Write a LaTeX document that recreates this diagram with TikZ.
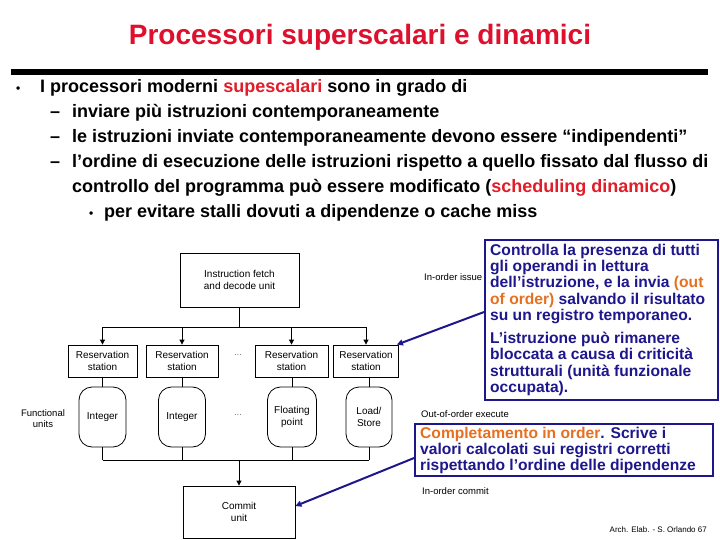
\documentclass[tikz,border=0pt]{standalone}
\usepackage{fontspec}
\setmainfont{Liberation Sans}
\usetikzlibrary{arrows.meta}
\definecolor{titlered}{RGB}{222,16,46}
\definecolor{bulred}{RGB}{226,28,40}
\definecolor{calblue}{RGB}{30,22,140}
\definecolor{calorange}{RGB}{230,112,32}
\definecolor{dotgray}{RGB}{120,120,120}
\begin{document}
\begin{tikzpicture}[x=1pt,y=-1pt,
  blk/.style={draw, line width=0.8pt, align=center, inner sep=0pt, font=\fontsize{10}{11.5}\selectfont},
  fubox/.style={blk, rounded corners=13pt, minimum height=60pt},
  lbl/.style={inner sep=0pt, font=\fontsize{9.5}{11}\selectfont, align=center},
  bul/.style={inner sep=0pt, anchor=base west, font=\fontsize{18}{20}\selectfont\bfseries},
  callbox/.style={draw=calblue, line width=1.8pt, fill=white, inner sep=0pt},
  calltext/.style={inner sep=0pt, anchor=north west, align=left, text=calblue, font=\fontsize{15.6}{16.2}\selectfont\bfseries},
  conn/.style={line width=0.8pt},
  arr/.style={conn, -{Triangle[length=5pt,width=5pt]}},
  bluearr/.style={draw=calblue, line width=2pt, -{Triangle[length=6pt,width=6pt]}}
]
\useasboundingbox (0,0) rectangle (720,540);
\fill[white] (0,0) rectangle (720,540);

% title
\node[inner sep=0pt, text=titlered, font=\fontsize{28}{30}\selectfont\bfseries] (title) at (360,37) {Processori superscalari e dinamici};
\fill (11,69) rectangle (708,75);

% bullets
\node[bul, font=\fontsize{12}{14}\selectfont\bfseries] (b0) at (16,93) {•};
\node[bul] (l1) at (40,93) {I processori moderni \textcolor{bulred}{supescalari} sono in grado di};
\node[bul] (d2) at (50,118) {–};
\node[bul] (l2) at (72,118) {inviare più istruzioni contemporaneamente};
\node[bul] (d3) at (50,143) {–};
\node[bul] (l3) at (72,143) {le istruzioni inviate contemporaneamente devono essere “indipendenti”};
\node[bul] (d4) at (50,168) {–};
\node[bul] (l4) at (72,168) {l’ordine di esecuzione delle istruzioni rispetto a quello fissato dal flusso di};
\node[bul] (l5) at (72,193) {controllo del programma può essere modificato (\textcolor{bulred}{scheduling dinamico})};
\node[bul, font=\fontsize{12}{14}\selectfont\bfseries] (b6) at (89,218) {•};
\node[bul] (l6) at (104,218) {per evitare stalli dovuti a dipendenze o cache miss};

% diagram
\node[blk, minimum width=119pt, minimum height=54pt] (fetch) at (239.5,280) {Instruction fetch\\and decode unit};
\node[blk, minimum width=69pt, minimum height=32pt] (rs1) at (102.5,361) {Reservation\\station};
\node[blk, minimum width=72pt, minimum height=32pt] (rs2) at (182,361) {Reservation\\station};
\node[blk, minimum width=73pt, minimum height=32pt] (rs3) at (291.5,361) {Reservation\\station};
\node[blk, minimum width=65pt, minimum height=32pt] (rs4) at (366,361) {Reservation\\station};
\node[fubox, minimum width=47pt] (fu1) at (102.5,417) {Integer};
\node[fubox, minimum width=47pt] (fu2) at (182,417) {Integer};
\node[fubox, minimum width=49pt] (fu3) at (292,417) {Floating\\point};
\node[fubox, minimum width=46pt] (fu4) at (369,417) {Load/\\Store};
\node[blk, minimum width=112pt, minimum height=52pt] (commit) at (239,512) {Commit\\unit};

\node[lbl, text=dotgray] (dots1) at (238,355) {...};
\node[lbl, text=dotgray] (dots2) at (238,415) {...};
\node[lbl] (fulbl) at (43,419) {Functional\\units};

\coordinate (busy) at (0,327);
\coordinate (boty) at (0,460);
\draw[conn] (fetch.south) -- (fetch.south |- busy);
\draw[conn] (rs1.north |- busy) -- (rs4.north |- busy);
\foreach \r in {rs1,rs2,rs3,rs4} {
  \draw[arr] (\r.north |- busy) -- (\r.north);
}
\foreach \r/\f in {rs1/fu1,rs2/fu2,rs3/fu3,rs4/fu4} {
  \draw[conn] (\r.south) -- (\r.south -| \f.north) -- (\f.north);
  \draw[conn] (\f.south) -- (\f.south |- boty);
}
\draw[conn] (fu1.south |- boty) -- (fu4.south |- boty);
\draw[arr] (commit.north |- boty) -- (commit.north);

% side labels
\node[lbl, anchor=west] (issue) at (424,277) {In-order issue};
\node[lbl, anchor=west] (exec) at (421,414) {Out-of-order execute};
\node[lbl, anchor=west] (commitlbl) at (422,491) {In-order commit};
\node[inner sep=0pt, anchor=east, font=\fontsize{8}{9}\selectfont] (foot) at (707,530) {Arch. Elab. - S. Orlando 67};

% callouts
\node[callbox, minimum width=233pt, minimum height=160pt] (c1) at (601.5,320) {};
\node[calltext] (c1t) at (490,244) {Controlla la presenza di tutti\\gli operandi in lettura\\dell’istruzione, e la invia \textcolor{calorange}{(out}\\\textcolor{calorange}{of order)} salvando il risultato\\su un registro temporaneo.};
\node[calltext] (c1u) at (490,332) {L’istruzione può rimanere\\bloccata a causa di criticità\\strutturali (unità funzionale\\occupata).};
\node[callbox, minimum width=298pt, minimum height=52pt] (c2) at (564,450) {};
\node[calltext] (c2t) at (420,426.5) {\textcolor{calorange}{Completamento in order}. Scrive i\\valori calcolati sui registri corretti\\rispettando l’ordine delle dipendenze};

\draw[bluearr] ([yshift=8pt]c1.west) -- ([xshift=-2pt]rs4.north east);
\draw[bluearr] ([yshift=-8pt]c2.west) -- ([yshift=6pt]commit.east);
\end{tikzpicture}
\end{document}
